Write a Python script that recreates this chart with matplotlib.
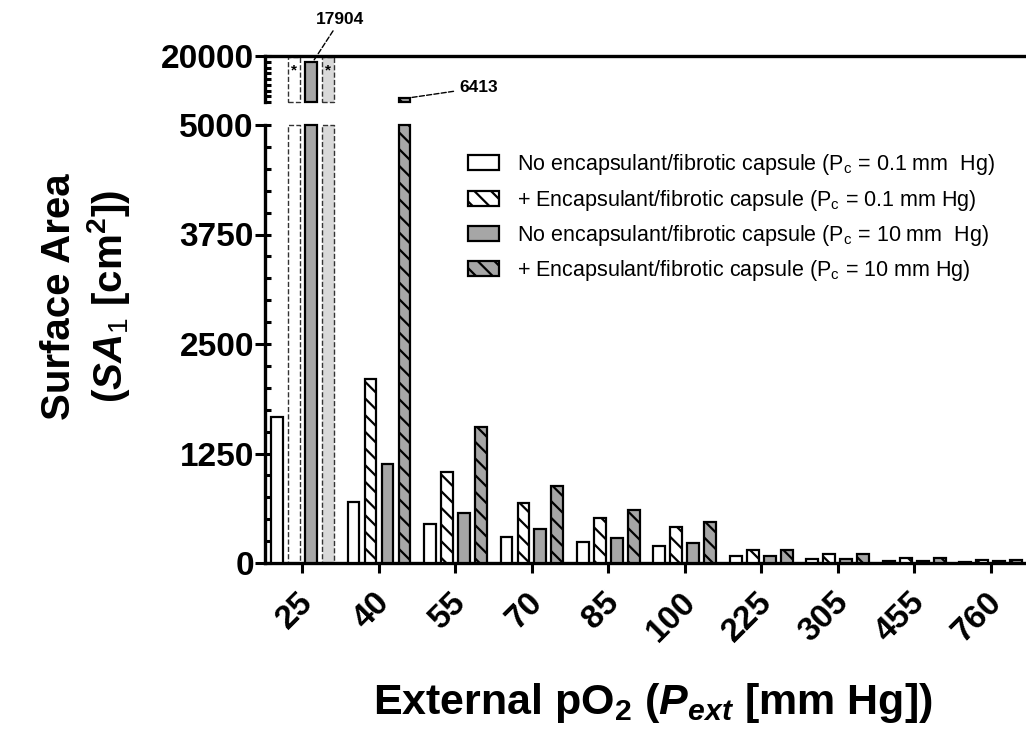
import numpy as np
import matplotlib
matplotlib.use("Agg")
import matplotlib.pyplot as plt
from matplotlib.ticker import MultipleLocator, FixedLocator
from matplotlib.patches import Patch
from matplotlib.transforms import ScaledTranslation

# data (SA1, cm^2); nan = not feasible (marked with *)
pext = ["25", "40", "55", "70", "85", "100", "225", "305", "455", "760"]
no_cap_01 = [1666, 696, 440, 300, 240, 198, 80, 46, 27, 15]
cap_01 = [np.nan, 2104, 1035, 680, 510, 407, 145, 99, 61, 30]
no_cap_10 = [17904, 1126, 575, 385, 285, 228, 80, 46, 27, 19]
cap_10 = [np.nan, 6413, 1550, 875, 609, 464, 152, 107, 61, 30]

labels = [
    "No encapsulant/fibrotic capsule (P$_\\mathrm{c}$ = 0.1 mm  Hg)",
    "+ Encapsulant/fibrotic capsule (P$_\\mathrm{c}$ = 0.1 mm Hg)",
    "No encapsulant/fibrotic capsule (P$_\\mathrm{c}$ = 10 mm  Hg)",
    "+ Encapsulant/fibrotic capsule (P$_\\mathrm{c}$ = 10 mm Hg)",
]

plt.rcParams["font.family"] = "Liberation Sans"
plt.rcParams["mathtext.fontset"] = "custom"
plt.rcParams["mathtext.rm"] = "Liberation Sans"
plt.rcParams["mathtext.it"] = "Liberation Sans:italic:bold"
plt.rcParams["mathtext.bf"] = "Liberation Sans:bold"
plt.rcParams["hatch.linewidth"] = 1.6

GRAY = "#a6a6a6"
LIGHT = "#d9d9d9"
series = [no_cap_01, cap_01, no_cap_10, cap_10]
faces = ["white", "white", GRAY, GRAY]
hatches = [None, "\\\\", None, "\\\\"]
placeholder_faces = ["white", "white", LIGHT, LIGHT]

W, H = 1026, 735
fig = plt.figure(figsize=(W / 100, H / 100), dpi=100)
# bottom segment 0-5000, top segment 5000-20000
ax = fig.add_axes([265 / W, 1 - 563 / H, (W - 265) / W, (563 - 125) / H])
axt = fig.add_axes([265 / W, 1 - 102 / H, (W - 265) / W, (102 - 56) / H])

x = np.arange(len(pext))
step = 0.222
width = 0.155
LOW_TOP = 5000
TOP_MAX = 20000

for i, (vals, fc, ht, pfc) in enumerate(zip(series, faces, hatches, placeholder_faces)):
    vals = np.array(vals, dtype=float)
    xs = x + (i - 1.5) * step
    ok = ~np.isnan(vals)
    # bottom segment, capped at the break
    ax.bar(xs[ok], np.minimum(vals[ok], LOW_TOP), width, color=fc, edgecolor="black",
           linewidth=1.6, hatch=ht, clip_on=False, zorder=3)
    # top segment, only values above the break
    big = ok & (vals > LOW_TOP)
    axt.bar(xs[big], vals[big] - LOW_TOP, width, bottom=LOW_TOP, color=fc,
            edgecolor="black", linewidth=1.6, hatch=ht, clip_on=False, zorder=3)
    # not feasible: dashed placeholder with asterisk
    nf = np.isnan(vals)
    if nf.any():
        ax.bar(xs[nf], LOW_TOP, width, color=pfc, edgecolor="#333333", linewidth=1.0,
               linestyle="--", clip_on=False, zorder=2)
        axt.bar(xs[nf], TOP_MAX - LOW_TOP - 400, width, bottom=LOW_TOP, color=pfc,
                edgecolor="#333333", linewidth=1.0, linestyle="--", clip_on=False, zorder=2)
        for xx in xs[nf]:
            axt.text(xx, 15200, "*", ha="center", va="center", fontsize=11,
                     fontweight="bold", zorder=4)

# axes styling
ax.set_xlim(-0.49, 9.46)
axt.set_xlim(-0.49, 9.46)
ax.set_ylim(0, LOW_TOP)
axt.set_ylim(LOW_TOP, TOP_MAX)

for a in (ax, axt):
    a.spines["right"].set_visible(False)
    for s in a.spines.values():
        s.set_linewidth(2.4)
ax.spines["top"].set_visible(False)
axt.spines["bottom"].set_visible(False)

ax.set_yticks([0, 1250, 2500, 3750, 5000])
ax.yaxis.set_minor_locator(MultipleLocator(250))
ax.yaxis.remove_overlapping_locs = False
axt.set_yticks([TOP_MAX])
axt.yaxis.set_minor_locator(FixedLocator(np.arange(LOW_TOP, TOP_MAX + 1, 1875)))
axt.yaxis.remove_overlapping_locs = False

for a in (ax, axt):
    a.tick_params(axis="y", which="major", direction="out", length=7, width=2.2,
                  labelsize=24, pad=1)
    a.tick_params(axis="y", which="minor", direction="in", length=4.5, width=2.2)
    for lab in a.get_yticklabels():
        lab.set_fontweight("bold")

ax.set_xticks(x)
ax.set_xticklabels(pext, rotation=45, ha="right", rotation_mode="anchor",
                   fontsize=24, fontweight="bold")
ax.tick_params(axis="x", direction="out", length=7, width=2.2, pad=10)
shift = ScaledTranslation(-5 / 100, 0, fig.dpi_scale_trans)
for lab in ax.get_xticklabels():
    lab.set_transform(lab.get_transform() + shift)
axt.set_xticks([])

# value callouts for the bars that break the axis
axt.annotate("17904", xy=(0 + 0.5 * step + 0.02, no_cap_10[0]), xytext=(28, 43),
             textcoords="offset pixels", ha="center", va="center", fontsize=12.5,
             fontweight="bold", annotation_clip=False,
             arrowprops=dict(arrowstyle="-", linestyle="--", lw=1, color="black",
                             shrinkA=1, shrinkB=0))
axt.annotate("6413", xy=(1 + 1.5 * step + width / 2, cap_10[1]), xytext=(68, 10),
             textcoords="offset pixels", ha="center", va="center", fontsize=12.5,
             fontweight="bold", annotation_clip=False,
             arrowprops=dict(arrowstyle="-", linestyle="--", lw=1, color="black",
                             shrinkA=2, shrinkB=0))

# legend
handles = [Patch(facecolor=f, edgecolor="black", hatch=h, linewidth=1.6)
           for f, h in zip(faces, hatches)]
fig.legend(handles, labels, loc="upper left", bbox_to_anchor=(449 / W, 1 - 133 / H),
           frameon=False, fontsize=15.5, handlelength=1.4, handleheight=0.7,
           handletextpad=0.85, labelspacing=0.48)

# axis titles
fig.text(86 / W, 1 - 297 / H, "Surface Area\n($SA_\\mathit{1}$ [cm$^\\mathbf{2}$])",
         rotation=90, ha="center", va="center", fontsize=29, fontweight="bold",
         multialignment="center", linespacing=1.2)
fig.text(653 / W, 1 - 703 / H, "External pO$_\\mathbf{2}$ ($P_{ext}$ [mm Hg])",
         ha="center", va="center", fontsize=31, fontweight="bold")

fig.savefig("out.png", dpi=100)
